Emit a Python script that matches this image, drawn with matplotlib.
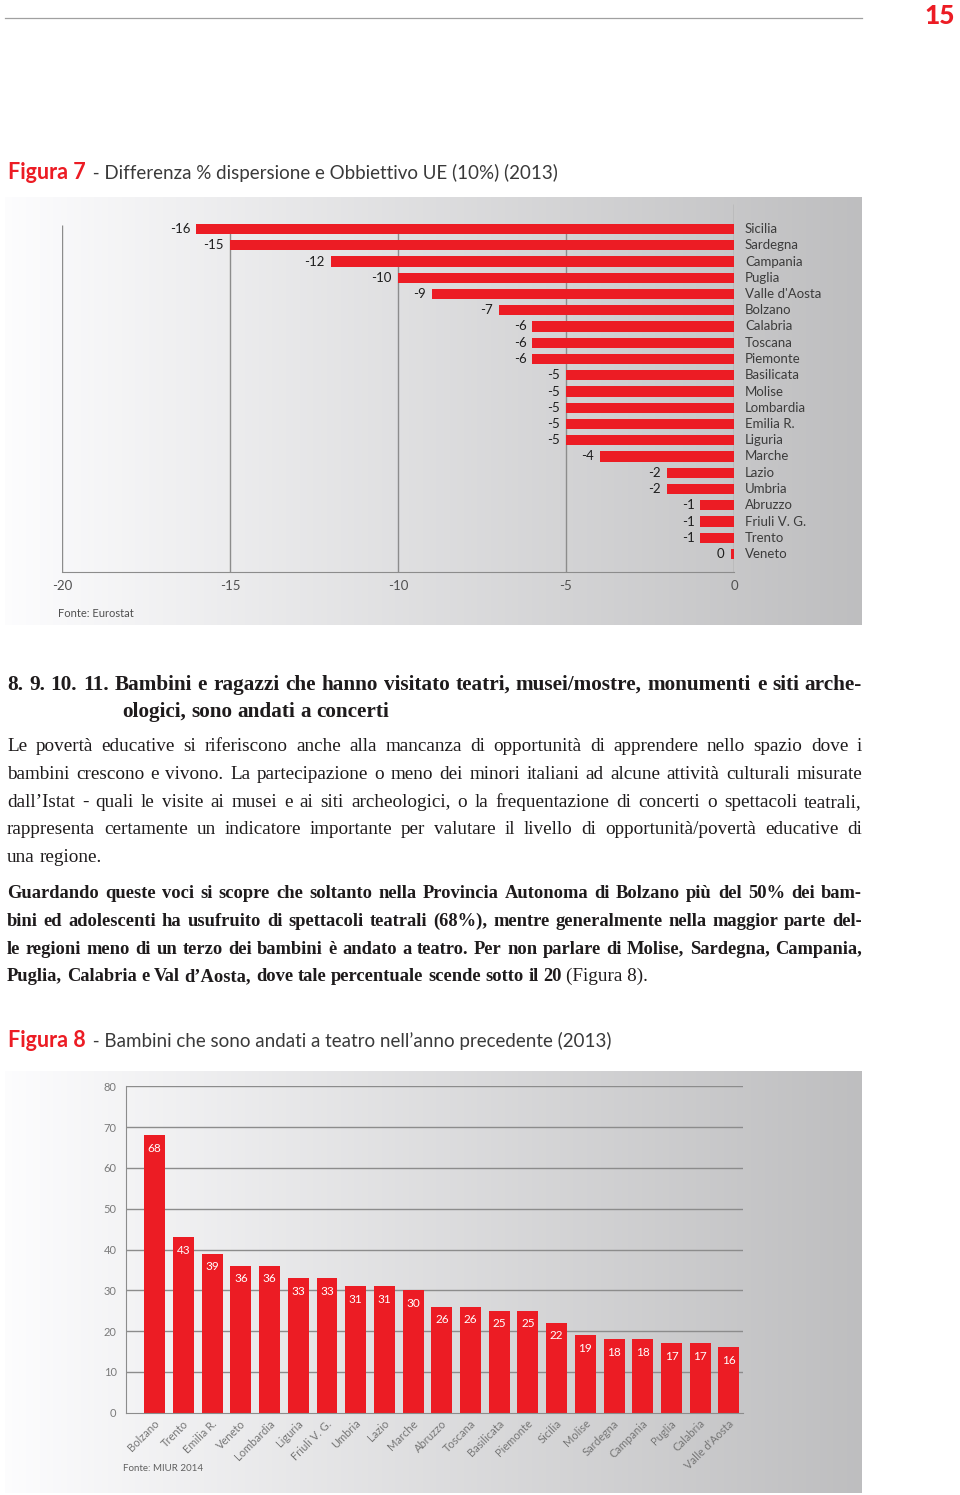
import numpy as np
import matplotlib
matplotlib.use("Agg")
import matplotlib.pyplot as plt
from matplotlib.font_manager import FontProperties
from matplotlib.lines import Line2D

W, H = 960, 1495
RED = "#ec1c24"
GRID = "#8c8c8c"

# ---- Figura 7 data
regioni_7 = ["Sicilia", "Sardegna", "Campania", "Puglia", "Valle d'Aosta", "Bolzano",
             "Calabria", "Toscana", "Piemonte", "Basilicata", "Molise", "Lombardia",
             "Emilia R.", "Liguria", "Marche", "Lazio", "Umbria", "Abruzzo",
             "Friuli V. G.", "Trento", "Veneto"]
diff_7 = [-16, -15, -12, -10, -9, -7, -6, -6, -6, -5, -5, -5, -5, -5, -4, -2, -2,
          -1, -1, -1, -0.1]
ticks_7 = [-20, -15, -10, -5, 0]

# ---- Figura 8 data
regioni_8 = ["Bolzano", "Trento", "Emilia R.", "Veneto", "Lombardia", "Liguria",
             "Friuli V. G.", "Umbria", "Lazio", "Marche", "Abruzzo", "Toscana",
             "Basilicata", "Piemonte", "Sicilia", "Molise", "Sardegna", "Campania",
             "Puglia", "Calabria", "Valle d'Aosta"]
teatro_8 = [68, 43, 39, 36, 36, 33, 33, 31, 31, 30, 26, 26, 25, 25, 22, 19, 18, 18,
            17, 17, 16]
ticks_8 = [0, 10, 20, 30, 40, 50, 60, 70, 80]

# ---- testo
titolo_7 = ("Figura 7", " - Differenza % dispersione e Obbiettivo UE (10%) (2013)")
titolo_8 = ("Figura 8", " - Bambini che sono andati a teatro nell\u2019anno precedente (2013)")
heading = ["8. 9. 10. 11. Bambini e ragazzi che hanno visitato teatri, musei/mostre, monumenti e siti arche-",
           "ologici, sono andati a concerti"]
para_1 = ["Le povertà educative si riferiscono anche alla mancanza di opportunità di apprendere nello spazio dove i",
          "bambini crescono e vivono. La partecipazione o meno dei minori italiani ad alcune attività culturali misurate",
          "dall\u2019Istat - quali le visite ai musei e ai siti archeologici, o la frequentazione di concerti o spettacoli teatrali,",
          "rappresenta certamente un indicatore importante per valutare il livello di opportunità/povertà educative di",
          "una regione."]
para_2 = ["Guardando queste voci si scopre che soltanto nella Provincia Autonoma di Bolzano più del 50% dei bam-",
          "bini ed adolescenti ha usufruito di spettacoli teatrali (68%), mentre generalmente nella maggior parte del-",
          "le regioni meno di un terzo dei bambini è andato a teatro. Per non parlare di Molise, Sardegna, Campania,",
          "Puglia, Calabria e Val d\u2019Aosta, dove tale percentuale scende sotto il 20"]
para_2_coda = "(Figura 8)."


def fx(x):
    return x / W


def fy(y):
    return 1 - y / H


def rect(x0, y0, x1, y1):
    return [fx(x0), fy(y1), (x1 - x0) / W, (y1 - y0) / H]


fig = plt.figure(figsize=(W / 100, H / 100), dpi=100)
fig.patch.set_facecolor("white")
renderer = fig.canvas.get_renderer()

SANS = ["Lato", "DejaVu Sans"]
SERIF = ["Liberation Serif", "DejaVu Serif"]
TXT = "#1e1b1c"


def width_of(t):
    return t.get_window_extent(renderer).width


def write_words(words, y, x0, x1, fp, color, justify):
    arts = [fig.text(0, fy(y), w, fontproperties=fp, color=color, va="baseline") for w in words]
    widths = [width_of(a) for a in arts]
    sp = fig.text(0, 0, "a a", fontproperties=fp)
    sp2 = fig.text(0, 0, "aa", fontproperties=fp)
    space = width_of(sp) - width_of(sp2)
    sp.remove()
    sp2.remove()
    gap = space
    if justify and len(words) > 1:
        gap = (x1 - x0 - sum(widths)) / (len(words) - 1)
    x = x0
    for a, w in zip(arts, widths):
        a.set_x(fx(x))
        x += w + gap
    return x - gap + space


def background(x0, y0, x1, y1):
    bg = fig.add_axes(rect(x0, y0, x1, y1), zorder=0)
    g = np.linspace(0.99, 0.745, 400)
    img = np.dstack([g, g, g + 0.006]).clip(0, 1)
    bg.imshow(img, aspect="auto", extent=(0, 1, 0, 1), interpolation="bilinear")
    bg.set_axis_off()


def title(parts, y):
    t1 = fig.text(fx(8), fy(y), parts[0], color=RED, fontsize=15.5, fontweight="bold",
                  family=SANS, va="baseline")
    w = width_of(t1)
    fig.text(fx(10 + w), fy(y), parts[1], color="#3a3a3a", fontsize=13.5, fontweight="normal",
             family=SANS, va="baseline")


# ---- intestazione pagina
fig.add_artist(Line2D([fx(5), fx(862)], [fy(18), fy(18)], color="#a0a0a0", lw=0.9))
fig.text(fx(940), fy(16), "15", color=RED, fontsize=19, fontweight="black", family=SANS,
         ha="center", va="center")

# ---- Figura 7
title(titolo_7, 179)
background(5, 197, 862, 625)
ax1 = fig.add_axes(rect(62, 204, 734, 572), zorder=1)
ax1.patch.set_alpha(0)
pos = np.arange(len(regioni_7))
y_top, y_bot = (204 - 229) / 16.25, (572 - 229) / 16.25
ax1.set_xlim(-20, 0)
ax1.set_ylim(y_bot, y_top)
ax1.vlines(ticks_7[:-1], (225 - 229) / 16.25, y_bot, color=GRID, lw=1, zorder=1)
ax1.vlines(0, y_top, y_bot, color=GRID, lw=1, zorder=1)
ax1.barh(pos, diff_7, height=0.62, color=RED, zorder=2)
for i, (v, name) in enumerate(zip(diff_7, regioni_7)):
    ax1.annotate(f"{round(v):d}", (v, i), xytext=(-6, 0), textcoords="offset pixels",
                 ha="right", va="center", fontsize=9.5, color="#1e1e1e", family=SANS)
    ax1.annotate(name, (0, i), xytext=(11, 0), textcoords="offset pixels",
                 ha="left", va="center", fontsize=9.5, color="#3c3c3c", family=SANS,
                 annotation_clip=False)
for s in ["top", "right", "left"]:
    ax1.spines[s].set_visible(False)
ax1.spines["bottom"].set_color(GRID)
ax1.set_yticks([])
ax1.set_xticks(ticks_7, [str(t) for t in ticks_7])
ax1.tick_params(axis="x", length=0, pad=6, labelsize=9.5, labelcolor="#505050")
for lab in ax1.get_xticklabels():
    lab.set_family(SANS)
fig.text(fx(58), fy(617), "Fonte: Eurostat", fontsize=8, color="#505050", family=SANS,
         va="baseline", zorder=3)

# ---- testo
fp_head = FontProperties(family=SERIF, size=15.3, weight="bold")
fp_body = FontProperties(family=SERIF, size=13.8)
fp_bold = FontProperties(family=SERIF, size=13.3, weight="bold")
write_words(heading[0].split(" "), 690, 7, 862, fp_head, TXT, True)
write_words(heading[1].split(" "), 717, 122, 862, fp_head, TXT, False)
for k, line in enumerate(para_1):
    write_words(line.split(" "), 751 + 27.8 * k, 7, 862, fp_body, TXT, k < len(para_1) - 1)
for k, line in enumerate(para_2):
    last = k == len(para_2) - 1
    xe = write_words(line.split(" "), 898 + 27.8 * k, 7, 862, fp_bold, TXT, not last)
    if last:
        write_words([para_2_coda], 898 + 27.8 * k, xe, 862, fp_body, TXT, False)

# ---- Figura 8
title(titolo_8, 1047)
background(5, 1071, 862, 1493)
ax2 = fig.add_axes(rect(126.3, 1086.3, 743, 1412.7), zorder=1)
ax2.patch.set_alpha(0)
pos2 = np.arange(len(regioni_8))
ax2.set_xlim(-0.99, 20.49)
ax2.set_ylim(0, 80)
ax2.hlines(ticks_8[1:], -0.99, 20.49, color=GRID, lw=1, zorder=1)
ax2.bar(pos2, teatro_8, width=0.73, color=RED, zorder=2)
for i, (v, name) in enumerate(zip(teatro_8, regioni_8)):
    ax2.annotate(str(v), (i, v), xytext=(0, -13), textcoords="offset pixels",
                 ha="center", va="center", fontsize=8.5, color="white", family=SANS)
    ax2.annotate(name, (i, 0), xytext=(3, -9), textcoords="offset pixels",
                 ha="right", va="center", rotation=45, rotation_mode="anchor",
                 fontsize=8, color="#767676", family=SANS,
                 annotation_clip=False)
for s in ["top", "right"]:
    ax2.spines[s].set_visible(False)
ax2.spines["left"].set_color(GRID)
ax2.spines["bottom"].set_color(GRID)
ax2.set_xticks([])
ax2.set_yticks(ticks_8, [str(t) for t in ticks_8])
ax2.tick_params(axis="y", length=0, pad=7, labelsize=8, labelcolor="#7a7a7a")
for lab in ax2.get_yticklabels():
    lab.set_family(SANS)
fig.text(fx(123), fy(1471), "Fonte: MIUR 2014", fontsize=7, color="#606060", family=SANS,
         va="baseline", zorder=3)

fig.savefig("out.png", dpi=100)
